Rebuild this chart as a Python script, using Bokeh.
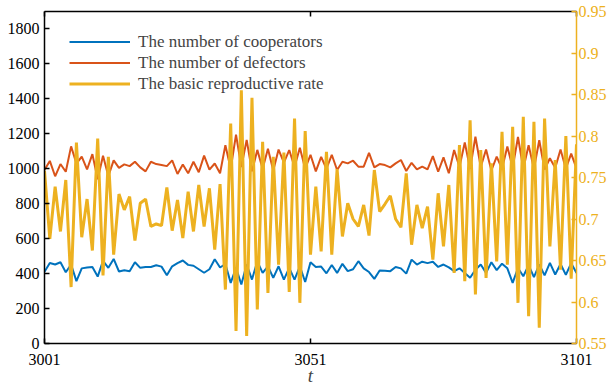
from bokeh.plotting import figure
from bokeh.models import Range1d, LinearAxis, FixedTicker
from bokeh.embed import file_html
from bokeh.resources import INLINE

# time steps 3001 ... 3101
t = list(range(3001, 3102))

cooperators = [
    410, 461, 452, 465, 408, 452, 357, 430, 435, 438,
    383, 473, 433, 484, 412, 419, 414, 465, 433, 438,
    438, 448, 440, 390, 442, 460, 475, 450, 445, 425,
    405, 425, 482, 435, 455, 347, 433, 338, 452, 366,
    470, 404, 442, 376, 442, 366, 433, 366, 442, 352,
    465, 438, 440, 402, 449, 404, 456, 414, 425, 471,
    430, 409, 370, 418, 417, 414, 438, 430, 400, 480,
    452, 468, 460, 468, 438, 452, 436, 414, 430, 404,
    376, 422, 452, 404, 465, 420, 457, 430, 347, 432,
    385, 448, 380, 452, 390, 461, 395, 455, 393, 460,
    404,
]

defectors = [
    993, 1045, 957, 1027, 983, 1128, 1030, 1070, 996, 1084,
    940, 1075, 958, 1048, 1005, 1025, 1015, 1040, 1008, 985,
    1040, 1027, 1022, 1015, 1048, 970, 1025, 974, 1040, 980,
    1075, 995, 1030, 974, 1135, 1000, 1195, 1010, 1165, 985,
    1108, 1000, 1115, 990, 1110, 1035, 1107, 1010, 1120, 1000,
    1080, 985, 1068, 1000, 1080, 993, 1040, 1031, 1046, 1012,
    1012, 1091, 1008, 1027, 1021, 1008, 1031, 1050, 987, 1034,
    996, 1012, 996, 1072, 983, 1065, 974, 1107, 1010, 1150,
    1000, 1183, 1010, 1110, 990, 1070, 1000, 1128, 1005, 1182,
    1000, 1135, 1000, 1163, 995, 1060, 1005, 1110, 1000, 1087,
    1002,
]

rate = [
    0.758, 0.676, 0.739, 0.685, 0.747, 0.618, 0.792, 0.678, 0.724, 0.662,
    0.797, 0.632, 0.775, 0.657, 0.730, 0.711, 0.727, 0.674, 0.719, 0.724,
    0.691, 0.694, 0.692, 0.738, 0.686, 0.723, 0.677, 0.733, 0.685, 0.741,
    0.691, 0.737, 0.663, 0.742, 0.615, 0.815, 0.565, 0.855, 0.559, 0.846,
    0.591, 0.793, 0.611, 0.775, 0.645, 0.780, 0.612, 0.821, 0.599, 0.806,
    0.657, 0.739, 0.661, 0.781, 0.657, 0.760, 0.679, 0.719, 0.700, 0.691,
    0.717, 0.680, 0.759, 0.709, 0.718, 0.728, 0.700, 0.690, 0.755, 0.669,
    0.717, 0.689, 0.715, 0.651, 0.731, 0.667, 0.741, 0.635, 0.789, 0.625,
    0.819, 0.609, 0.783, 0.629, 0.767, 0.649, 0.805, 0.645, 0.811, 0.599,
    0.823, 0.583, 0.817, 0.569, 0.821, 0.667, 0.771, 0.639, 0.800, 0.628,
    0.790,
]

x_ticks = [3001, 3051, 3101]
count_ticks = [0, 200, 400, 600, 800, 1000, 1200, 1400, 1600, 1800]
rate_ticks = [0.55, 0.6, 0.65, 0.7, 0.75, 0.8, 0.85, 0.9, 0.95]
rate_labels = ["0.55", "0.6", "0.65", "0.7", "0.75", "0.8", "0.85", "0.9", "0.95"]

BLUE = "#0072BD"
RED = "#D95319"
YELLOW = "#EDB120"
FONT = "Liberation Serif"

p = figure(
    width=611, height=388,
    x_range=Range1d(3001, 3101), y_range=Range1d(0, 1900),
    output_backend="svg", toolbar_location=None,
    min_border_left=44, min_border_right=35,
    min_border_top=11, min_border_bottom=44,
    background_fill_color="white", border_fill_color="white",
)
p.extra_y_ranges = {"rate": Range1d(0.55, 0.95)}
p.outline_line_color = None
p.xgrid.visible = False
p.ygrid.visible = False


def style_axis(ax, color):
    ax.axis_line_color = color
    ax.axis_line_width = 1.5
    ax.major_tick_line_color = color
    ax.major_tick_line_width = 1.5
    ax.major_tick_in = 5
    ax.major_tick_out = 0
    ax.minor_tick_line_color = None
    ax.major_label_text_font = FONT
    ax.major_label_text_font_size = "16px"
    ax.major_label_text_color = color


xaxis = p.xaxis[0]
xaxis.ticker = FixedTicker(ticks=x_ticks)
style_axis(xaxis, "black")
xaxis.major_label_standoff = 10
xaxis.axis_label = "t"
xaxis.axis_label_text_font = FONT
xaxis.axis_label_text_font_style = "italic"
xaxis.axis_label_text_font_size = "19px"
xaxis.axis_label_standoff = -3

yaxis = p.yaxis[0]
yaxis.ticker = FixedTicker(ticks=count_ticks)
style_axis(yaxis, "black")
yaxis.major_label_standoff = 5

# top edge of the box: ticks only, labels not painted
top_axis = LinearAxis(ticker=FixedTicker(ticks=x_ticks))
style_axis(top_axis, "black")
top_axis.major_label_text_color = None
top_axis.major_label_text_font_size = "1px"
top_axis.major_label_standoff = 0
p.add_layout(top_axis, "above")

right_axis = LinearAxis(y_range_name="rate", ticker=FixedTicker(ticks=rate_ticks))
style_axis(right_axis, YELLOW)
right_axis.major_label_standoff = 2
right_axis.major_label_overrides = dict(zip(rate_ticks, rate_labels))
p.add_layout(right_axis, "right")

p.line(t, cooperators, line_color=BLUE, line_width=2,
       legend_label="The number of cooperators")
p.line(t, defectors, line_color=RED, line_width=2,
       legend_label="The number of defectors")
p.line(t, rate, line_color=YELLOW, line_width=3, y_range_name="rate",
       legend_label="The basic reproductive rate")

lg = p.legend[0]
lg.location = (25, 249)
lg.margin = 0
lg.padding = 0
lg.spacing = 0
lg.label_height = 21
lg.glyph_height = 21
lg.glyph_width = 61
lg.label_standoff = 8
lg.label_text_font = FONT
lg.label_text_font_size = "17px"
lg.background_fill_alpha = 0
lg.border_line_alpha = 0

open("out.html", "w").write(file_html(p, INLINE))
